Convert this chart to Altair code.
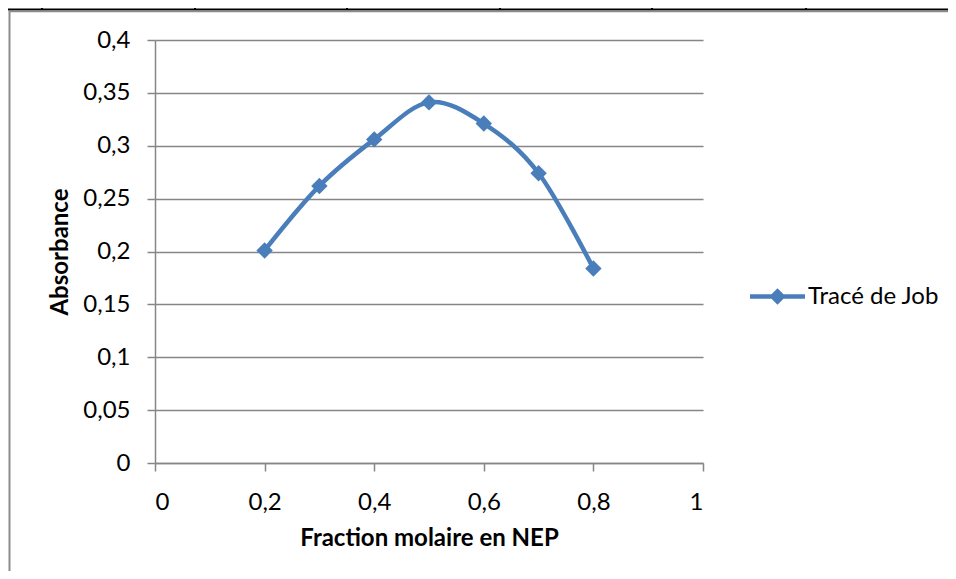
import altair as alt
import pandas as pd

# Data
fraction = [0.2, 0.3, 0.4, 0.5, 0.6, 0.7, 0.8]
absorbance = [0.201, 0.262, 0.306, 0.341, 0.321, 0.274, 0.184]
series_name = "Tracé de Job"

y_ticks = [0, 0.05, 0.1, 0.15, 0.2, 0.25, 0.3, 0.35, 0.4]
x_ticks = [0, 0.2, 0.4, 0.6, 0.8, 1]

BLUE = "#4A7EBB"
GRID = "#868686"
FONT = "Lato"
FS = 24

df = pd.DataFrame({"x": fraction, "y": absorbance, "s": [series_name] * len(fraction)})

W, H = 548, 423

label_expr = "replace(format(datum.value, '~g'), '.', ',')"

xenc = alt.X(
    "x:Q",
    scale=alt.Scale(domain=[0, 1], nice=False, zero=False),
    axis=alt.Axis(
        values=x_ticks,
        labelExpr=label_expr,
        title="Fraction molaire en NEP",
        grid=False,
        tickSize=8,
        labelPadding=19,
        titlePadding=12,
    ),
)
yenc = alt.Y(
    "y:Q",
    scale=alt.Scale(domain=[0, 0.4], nice=False),
    axis=alt.Axis(
        values=y_ticks,
        labelExpr=label_expr,
        title="Absorbance",
        grid=True,
        tickSize=8,
        labelPadding=17,
        titlePadding=10,
    ),
)

legend_symbol = (
    "M-1,-0.08 L1,-0.08 L1,0.08 L-1,0.08 Z "
    "M0,-0.3 L0.3,0 L0,0.3 L-0.3,0 Z"
)

line = alt.Chart(df).mark_line(interpolate="cardinal", strokeWidth=4.5, color=BLUE).encode(
    x=xenc,
    y=yenc,
    color=alt.Color(
        "s:N",
        scale=alt.Scale(range=[BLUE]),
        legend=alt.Legend(
            title=None,
            orient="none",
            legendX=595,
            legendY=229,
            symbolType=legend_symbol,
            symbolSize=3025,
            symbolFillColor=BLUE,
            symbolStrokeColor=BLUE,
            symbolStrokeWidth=0,
            labelFontSize=FS,
            labelFont=FONT,
            labelColor="#000000",
            labelOffset=3,
        ),
    ),
)

points = alt.Chart(df).mark_point(
    shape="diamond", filled=True, size=270, color=BLUE, opacity=1
).encode(x="x:Q", y="y:Q")

# page decorations (document table border and chart frame)
deco_df = pd.DataFrame({"k": [0]})
top_black = alt.Chart(deco_df).mark_rule(color="#000000", strokeWidth=2).encode(
    x=alt.value(-160), x2=alt.value(810), y=alt.value(-30.5)
)
grey_top = alt.Chart(deco_df).mark_rule(color="#8c8c8c", strokeWidth=1.5).encode(
    x=alt.value(-146), x2=alt.value(810), y=alt.value(-28.5)
)
grey_left = alt.Chart(deco_df).mark_rule(color="#8c8c8c", strokeWidth=2).encode(
    x=alt.value(-145.5), y=alt.value(-29), y2=alt.value(560)
)
vpos = pd.DataFrame({"px": [-113, 40, 192, 345, 497, 651]})
vlines = alt.Chart(vpos).mark_rule(color="#000000", strokeWidth=2).encode(
    x=alt.X("px:Q", scale=None), y=alt.value(-45), y2=alt.value(-30)
)

chart = (
    alt.layer(line, points, top_black, grey_top, grey_left, vlines)
    .properties(
        width=W,
        height=H,
        autosize=alt.AutoSizeParams(type="none"),
        padding={"left": 147, "top": 32, "right": 245, "bottom": 108},
    )
    .configure_view(stroke=None, clip=False)
    .configure_axis(
        labelFont=FONT,
        titleFont=FONT,
        labelFontSize=FS,
        titleFontSize=FS,
        titleFontWeight="bold",
        labelColor="#000000",
        titleColor="#000000",
        domainColor=GRID,
        tickColor=GRID,
        gridColor=GRID,
        domainWidth=1.5,
        tickWidth=1.5,
        gridWidth=1.5,
        gridOpacity=1,
    )
    .configure_axisY(titleAngle=270)
)

chart.save("out.html", embed_options={"renderer": "svg", "actions": False})
